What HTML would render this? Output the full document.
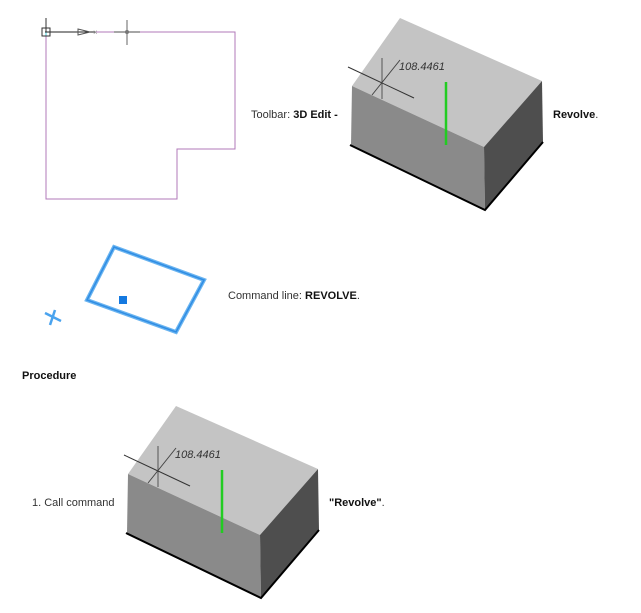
<!DOCTYPE html>
<html><head><meta charset="utf-8"><style>
html,body{margin:0;padding:0;background:#fff;width:641px;height:613px;overflow:hidden}
svg{position:absolute;left:0;top:0}
text{font-family:"Liberation Sans",sans-serif;font-size:11px;fill:#333}
</style></head><body>
<svg width="641" height="613" viewBox="0 0 641 613">
<defs>
<g id="box">
<polygon points="400,18 542,81 484,147 352,86" fill="#c4c4c4"/>
<polygon points="352,86 484,147 485,210 351,145" fill="#8a8a8a"/>
<polygon points="484,147 542,81 543,142 485,210" fill="#4e4e4e"/>
<polyline points="350,145 485,210 543,142" fill="none" stroke="#000" stroke-width="2"/>
<line x1="382" y1="58" x2="382" y2="99" stroke="#555" stroke-width="1"/>
<line x1="348" y1="67" x2="414" y2="98" stroke="#333" stroke-width="1"/>
<line x1="372" y1="95" x2="400" y2="60" stroke="#444" stroke-width="1"/>
<text x="399" y="70" style="font-style:italic;font-size:11px;fill:#333">108.4461</text>
<line x1="446" y1="82" x2="446" y2="145" stroke="#22cc22" stroke-width="2.5"/>
</g>
</defs>
<!-- outline -->
<polyline points="46,32 235,32 235,149 177,149 177,199 46,199 46,32" fill="none" stroke="#b07ab8" stroke-width="1"/>
<line x1="46" y1="32" x2="46" y2="36" stroke="#4cd" stroke-width="1"/>
<line x1="45" y1="32" x2="96" y2="32" stroke="#222" stroke-width="1"/>
<line x1="46" y1="18" x2="46" y2="32" stroke="#333"/>
<rect x="42" y="28" width="8" height="8" fill="none" stroke="#333"/>
<polygon points="78,29 90,32 78,35" fill="none" stroke="#555"/>
<text x="93" y="35" style="font-size:8px;fill:#999">×</text>
<line x1="114" y1="32" x2="140" y2="32" stroke="#888" stroke-width="1.5"/>
<line x1="127" y1="20" x2="127" y2="45" stroke="#999" stroke-width="1.5"/>
<circle cx="127" cy="32" r="2" fill="#777"/>
<!-- boxes -->
<use href="#box"/>
<use href="#box" transform="translate(-224,388)"/>
<!-- blue rect -->
<polygon points="114,247 204,280 176,332 87,300" fill="none" stroke="#6ab4f0" stroke-width="4"/>
<polygon points="114,247 204,280 176,332 87,300" fill="none" stroke="#2f8de4" stroke-width="1.5"/>
<rect x="119" y="296" width="8" height="8" fill="#1479e0"/>
<line x1="45" y1="313" x2="61" y2="321" stroke="#4aa3ee" stroke-width="2.5"/>
<line x1="55" y1="310" x2="50" y2="325" stroke="#4aa3ee" stroke-width="2.5"/>
<!-- text -->
<text x="251" y="118">Toolbar: <tspan font-weight="bold" style="fill:#111">3D Edit -</tspan></text>
<text x="553" y="118" font-weight="bold" style="fill:#111">Revolve<tspan font-weight="normal" style="fill:#333">.</tspan></text>
<text x="228" y="299">Command line: <tspan font-weight="bold" style="fill:#111">REVOLVE</tspan>.</text>
<text x="22" y="379" font-weight="bold" style="fill:#111">Procedure</text>
<text x="32" y="506">1. Call command</text>
<text x="329" y="506" font-weight="bold" style="fill:#111">"Revolve"<tspan font-weight="normal" style="fill:#333">.</tspan></text>
</svg>
</body></html>
